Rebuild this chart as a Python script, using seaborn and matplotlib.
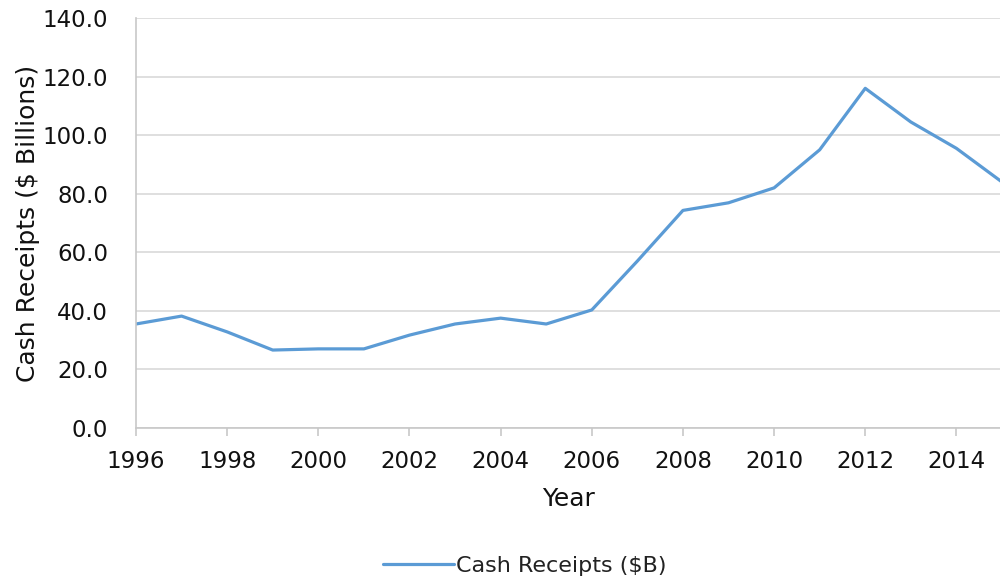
import matplotlib
matplotlib.use("Agg")
import matplotlib.pyplot as plt
import seaborn as sns
import pandas as pd

years = list(range(1996, 2016))
receipts = [35.5, 38.2, 32.8, 26.6, 27.0, 27.0, 31.7, 35.5, 37.5, 35.5,
            40.3, 57.0, 74.3, 76.9, 82.0, 95.0, 116.0, 104.5, 95.5, 84.0]
series_name = "Cash Receipts ($B)"
xticks = list(range(1996, 2016, 2))
yticks = [0, 20, 40, 60, 80, 100, 120, 140]

df = pd.DataFrame({"Year": years, "Value": receipts, "Series": series_name})

sns.set_theme(style="white")
plt.rcParams['font.family'] = ['DejaVu Sans']

fig = plt.figure(figsize=(10, 5.83), dpi=100)
ax = fig.add_axes([0.136, 0.266, 0.866, 0.703])

sns.lineplot(data=df, x="Year", y="Value", hue="Series", palette=["#5B9BD5"],
             linewidth=2.3, ax=ax, legend=True)

ax.set_xlim(1996, 2015)
ax.set_ylim(0, 140)
ax.set_xticks(xticks)
ax.set_xticklabels([str(t) for t in xticks], fontsize=16.5, color="#111111")
ax.set_yticks(yticks)
ax.set_yticklabels([f"{t:.1f}" for t in yticks], fontsize=16.5, color="#111111")
ax.yaxis.grid(True, color="#d9d9d9", linewidth=1.2)
ax.xaxis.grid(False)
for s in ["top", "right"]:
    ax.spines[s].set_visible(False)
for s in ["left", "bottom"]:
    ax.spines[s].set_color("#c8c8c8")
    ax.spines[s].set_linewidth(1.2)
ax.tick_params(axis="x", which="major", bottom=True, length=6, color="#c8c8c8", width=1.2, pad=10)
ax.tick_params(axis="y", left=False, pad=14)

ax.set_xlabel("Year", fontsize=18, color="#111111", labelpad=10)
ax.set_ylabel("Cash Receipts ($ Billions)", fontsize=18, color="#111111", labelpad=2)

handles, labels = ax.get_legend_handles_labels()
ax.get_legend().remove()
fig.legend(handles, labels, loc="center", bbox_to_anchor=(0.525, 0.029),
           frameon=False, fontsize=16, handlelength=3.2, handletextpad=0.1,
           labelcolor="#222222")

fig.savefig("out.png", dpi=100)
